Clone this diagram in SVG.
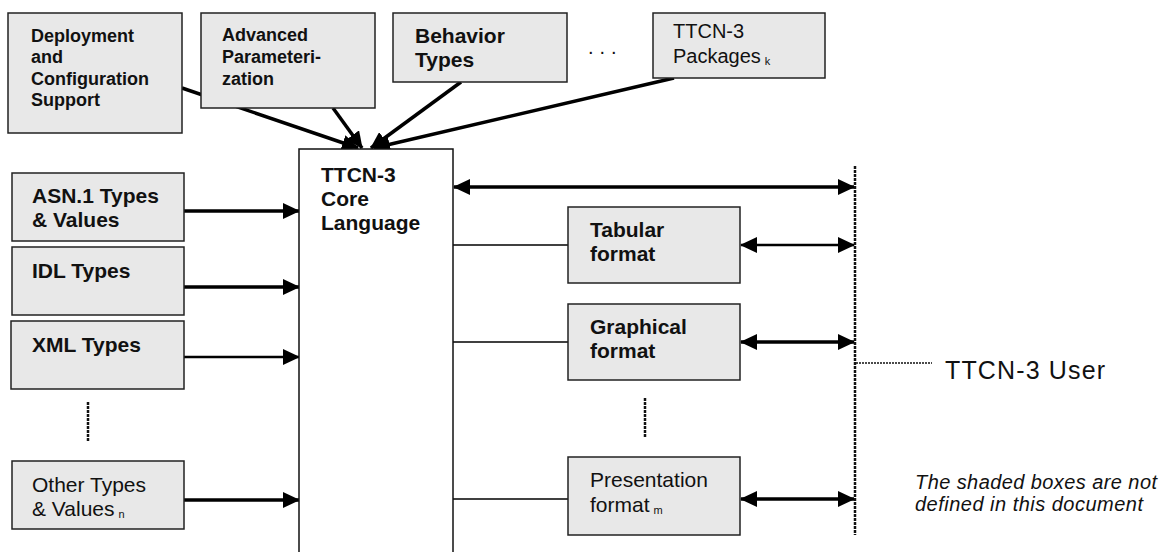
<svg xmlns="http://www.w3.org/2000/svg" width="1165" height="552" viewBox="0 0 1165 552">
<style>
  .box { fill: #e8e8e8; stroke: #222; stroke-width: 1.5; }
  .core { fill: #ffffff; stroke: #111; stroke-width: 1.5; }
  text { font-family: "Liberation Sans", Arial, sans-serif; fill: #111; }
  .b21 { font-size: 21px; font-weight: bold; }
  .b18 { font-size: 18px; font-weight: bold; }
  .n21 { font-size: 21px; }
  .n20 { font-size: 20px; }
  .sub { font-size: 11px; fill: #111; }
  .thick { stroke: #000; stroke-width: 3.5; fill: none; }
  .mid { stroke: #000; stroke-width: 2.5; fill: none; }
  .thin { stroke: #000; stroke-width: 1.3; fill: none; }
  .dot { stroke: #111; stroke-width: 2.5; stroke-dasharray: 3 1; fill: none; }
  .dotthin { stroke: #111; stroke-width: 1.5; stroke-dasharray: 2 1; fill: none; }
</style>
<defs>
  <marker id="ah" markerUnits="userSpaceOnUse" markerWidth="17" markerHeight="16" refX="16" refY="8" orient="auto-start-reverse">
    <path d="M0,0 L17,8 L0,16 z" fill="#000"/>
  </marker>
</defs>

<g id="connectors">
  <line class="thick" x1="182" y1="88" x2="358" y2="148" marker-end="url(#ah)"/>
  <line class="thick" x1="333" y1="108" x2="362" y2="148" marker-end="url(#ah)"/>
  <line class="thick" x1="461" y1="82" x2="371" y2="148" marker-end="url(#ah)"/>
  <line class="thick" x1="674" y1="78" x2="374" y2="148" marker-end="url(#ah)"/>
  <line class="thick" x1="184" y1="211" x2="299" y2="211" marker-end="url(#ah)"/>
  <line class="thick" x1="184" y1="287" x2="299" y2="287" marker-end="url(#ah)"/>
  <line class="mid" x1="184" y1="357" x2="299" y2="357" marker-end="url(#ah)"/>
  <line class="thick" x1="184" y1="500" x2="299" y2="500" marker-end="url(#ah)"/>
  <line class="thin" x1="453" y1="245" x2="568" y2="245"/>
  <line class="thin" x1="453" y1="342" x2="568" y2="342"/>
  <line class="thin" x1="453" y1="499" x2="568" y2="499"/>
  <line class="thick" x1="454" y1="187" x2="854" y2="187" marker-start="url(#ah)" marker-end="url(#ah)"/>
  <line class="mid" x1="741" y1="245" x2="854" y2="245" marker-start="url(#ah)" marker-end="url(#ah)"/>
  <line class="thick" x1="741" y1="342" x2="854" y2="342" marker-start="url(#ah)" marker-end="url(#ah)"/>
  <line class="thick" x1="741" y1="499" x2="854" y2="499" marker-start="url(#ah)" marker-end="url(#ah)"/>
  <line class="dot" x1="855" y1="166" x2="855" y2="535"/>
  <line class="dotthin" x1="856" y1="363" x2="932" y2="363"/>
  <line class="dot" x1="88" y1="402" x2="88" y2="441"/>
  <line class="dot" x1="645" y1="398" x2="645" y2="437"/>
</g>

<g id="deployment">
  <rect class="box" x="8" y="13" width="174" height="120"/>
  <text class="b18" x="31" y="42">Deployment</text>
  <text class="b18" x="31" y="63">and</text>
  <text class="b18" x="31" y="85">Configuration</text>
  <text class="b18" x="31" y="106">Support</text>
</g>
<g id="advanced">
  <rect class="box" x="201" y="13" width="174" height="95"/>
  <text class="b18" x="222" y="41">Advanced</text>
  <text class="b18" x="222" y="63">Parameteri-</text>
  <text class="b18" x="222" y="85">zation</text>
</g>
<g id="behavior">
  <rect class="box" x="393" y="13" width="174" height="69"/>
  <text class="b21" x="415" y="43">Behavior</text>
  <text class="b21" x="415" y="67">Types</text>
</g>
<g id="ellipsis-top">
  <text class="n20" x="588" y="54" letter-spacing="6">...</text>
</g>
<g id="packages">
  <rect class="box" x="653" y="13" width="172" height="65"/>
  <text class="n20" x="673" y="38">TTCN-3</text>
  <text class="n20" x="673" y="63">Packages<tspan class="sub" dx="4" dy="2">k</tspan></text>
</g>

<g id="core">
  <rect class="core" x="299" y="149" width="154" height="420"/>
  <text class="b21" x="321" y="182">TTCN-3</text>
  <text class="b21" x="321" y="206">Core</text>
  <text class="b21" x="321" y="230">Language</text>
</g>

<g id="asn1">
  <rect class="box" x="12" y="173" width="172" height="68"/>
  <text class="b21" x="32" y="203">ASN.1 Types</text>
  <text class="b21" x="32" y="227">&amp; Values</text>
</g>
<g id="idl">
  <rect class="box" x="12" y="247" width="172" height="68"/>
  <text class="b21" x="32" y="278">IDL Types</text>
</g>
<g id="xml">
  <rect class="box" x="11" y="321" width="173" height="68"/>
  <text class="b21" x="32" y="352">XML Types</text>
</g>
<g id="other">
  <rect class="box" x="12" y="461" width="172" height="68"/>
  <text class="n21" x="32" y="492">Other Types</text>
  <text class="n21" x="32" y="516">&amp; Values<tspan class="sub" dx="4" dy="2">n</tspan></text>
</g>

<g id="tabular">
  <rect class="box" x="568" y="207" width="172" height="76"/>
  <text class="b21" x="590" y="237">Tabular</text>
  <text class="b21" x="590" y="261">format</text>
</g>
<g id="graphical">
  <rect class="box" x="568" y="304" width="172" height="76"/>
  <text class="b21" x="590" y="334">Graphical</text>
  <text class="b21" x="590" y="358">format</text>
</g>
<g id="presentation">
  <rect class="box" x="568" y="457" width="172" height="78"/>
  <text class="n21" x="590" y="487">Presentation</text>
  <text class="n21" x="590" y="512">format<tspan class="sub" dx="4" dy="2">m</tspan></text>
</g>

<g id="user">
  <text x="945" y="379" font-size="25" textLength="160" lengthAdjust="spacing">TTCN-3 User</text>
</g>
<g id="note">
  <text x="915" y="489" font-size="20" font-style="italic" textLength="242" lengthAdjust="spacing">The shaded boxes are not</text>
  <text x="915" y="511" font-size="20" font-style="italic" textLength="228" lengthAdjust="spacing">defined in this document</text>
</g>
</svg>
